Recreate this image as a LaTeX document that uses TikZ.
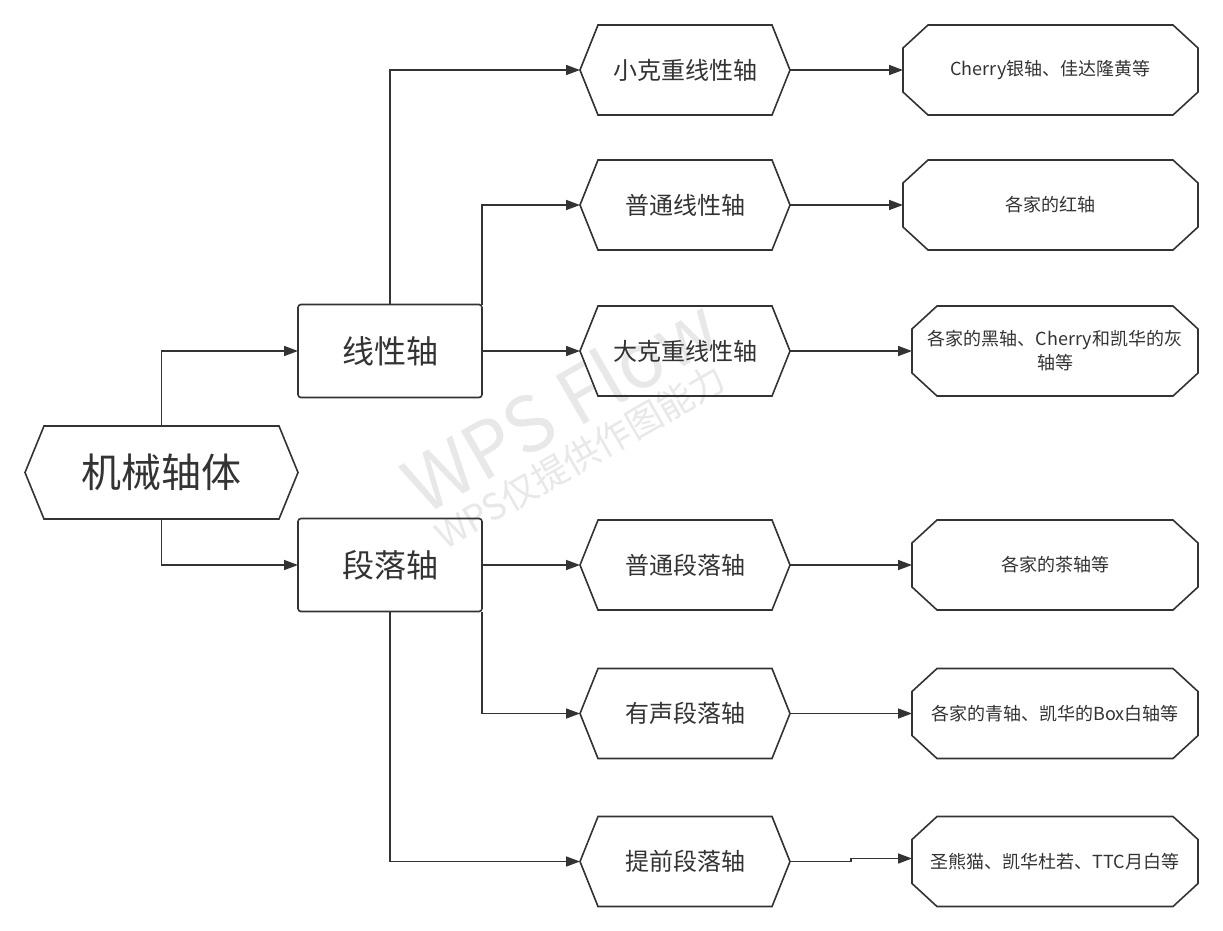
\documentclass[tikz,border=0pt]{standalone}
\usepackage{fontspec}
\setmainfont{Noto Sans CJK SC}
\usetikzlibrary{arrows.meta,calc}
\definecolor{linec}{HTML}{333333}
\definecolor{wmark}{HTML}{E8E8E8}
% hexagon outline round a node: #1 name, #2 inset of the points
\newcommand{\hexoutline}[2]{%
  \draw[shapeline] (#1.west) -- ([xshift=#2]#1.north west) -- ([xshift=-#2]#1.north east)
    -- (#1.east) -- ([xshift=-#2]#1.south east) -- ([xshift=#2]#1.south west) -- cycle;}
% octagon outline round a node: #1 name, #2 horizontal chamfer, #3 vertical chamfer
\newcommand{\octoutline}[3]{%
  \draw[shapeline] ([xshift=#2]#1.north west) -- ([xshift=-#2]#1.north east)
    -- ([yshift=-#3]#1.north east) -- ([yshift=#3]#1.south east)
    -- ([xshift=-#2]#1.south east) -- ([xshift=#2]#1.south west)
    -- ([yshift=#3]#1.south west) -- ([yshift=-#3]#1.north west) -- cycle;}
\begin{document}
\begin{tikzpicture}[x=1pt,y=-1pt,
  shapeline/.style={draw=linec, line width=1.6pt, line join=miter},
  conn/.style={draw=linec, line width=1.6pt, -{Triangle[length=14pt,width=10pt]}},
  base/.style={inner sep=0pt, outer sep=0pt, text=linec, align=center},
  rootbox/.style={base, minimum width=273pt, minimum height=93pt, font=\fontsize{40}{48}\selectfont},
  catbox/.style={base, draw=linec, line width=1.6pt, rounded corners=3pt, minimum width=184pt, minimum height=93pt, font=\fontsize{32}{38}\selectfont},
  hexbox/.style={base, minimum width=210pt, minimum height=90pt, font=\fontsize{24}{29}\selectfont},
  octbox/.style={base, minimum height=90pt, font=\fontsize{18}{24}\selectfont},
  wmtext/.style={text=wmark, rotate=30, inner sep=0pt}
]
\fill[white] (0,0) rectangle (1223,930);
\useasboundingbox (0,0) rectangle (1223,930);

% watermark
\node[wmtext, font=\fontsize{76}{84}\selectfont] (wm1) at (560,404) {WPS Flow};
\node[wmtext, font=\fontsize{36}{40}\selectfont] (wm2) at (580,457) {WPS仅提供作图能力};

% root
\node[rootbox] (root) at (161.5,472.5) {机械轴体};
\hexoutline{root}{19pt}

% categories
\node[catbox] (lin) at (390,351) {线性轴};
\node[catbox] (seg) at (390,565) {段落轴};

% level 2
\node[hexbox] (h1) at (685,70) {小克重线性轴};
\node[hexbox] (h2) at (685,205) {普通线性轴};
\node[hexbox] (h3) at (685,351) {大克重线性轴};
\node[hexbox] (h4) at (685,565) {普通段落轴};
\node[hexbox] (h5) at (685,713.5) {有声段落轴};
\node[hexbox] (h6) at (685,861.5) {提前段落轴};
\foreach \n in {h1,h2,h3,h4,h5,h6} {\hexoutline{\n}{18pt}}

% level 3
\node[octbox, minimum width=295pt] (o1) at (1050.5,70) {Cherry银轴、佳达隆黄等};
\node[octbox, minimum width=295pt] (o2) at (1050.5,205) {各家的红轴};
\node[octbox, minimum width=286pt] (o3) at (1055,351) {各家的黑轴、Cherry和凯华的灰\\轴等};
\node[octbox, minimum width=286pt] (o4) at (1055,565) {各家的茶轴等};
\node[octbox, minimum width=286pt] (o5) at (1055,713.5) {各家的青轴、凯华的Box白轴等};
\node[octbox, minimum width=286pt] (o6) at (1055,861.5) {圣熊猫、凯华杜若、TTC月白等};
\foreach \n in {o1,o2,o3,o4,o5,o6} {\octoutline{\n}{25pt}{23pt}}

% connectors
\draw[conn] (root.north) |- (lin.west);
\draw[conn] (root.south) |- (seg.west);
\draw[conn] (lin.north) |- (h1.west);
\draw[conn] (lin.north east) |- (h2.west);
\draw[conn] (lin.east) -- (h3.west);
\draw[conn] (seg.east) -- (h4.west);
\draw[conn] (seg.south east) |- (h5.west);
\draw[conn] (seg.south) |- (h6.west);
\draw[conn] (h1.east) -- (o1.west);
\draw[conn] (h2.east) -- (o2.west);
\draw[conn] (h3.east) -- (o3.west);
\draw[conn] (h4.east) -- (o4.west);
\draw[conn] (h5.east) -- (o5.west);
\draw[conn] (h6.east) -- ++(61,0) -- ++(0,-3) -- ([yshift=3pt]o6.west);
\end{tikzpicture}
\end{document}
